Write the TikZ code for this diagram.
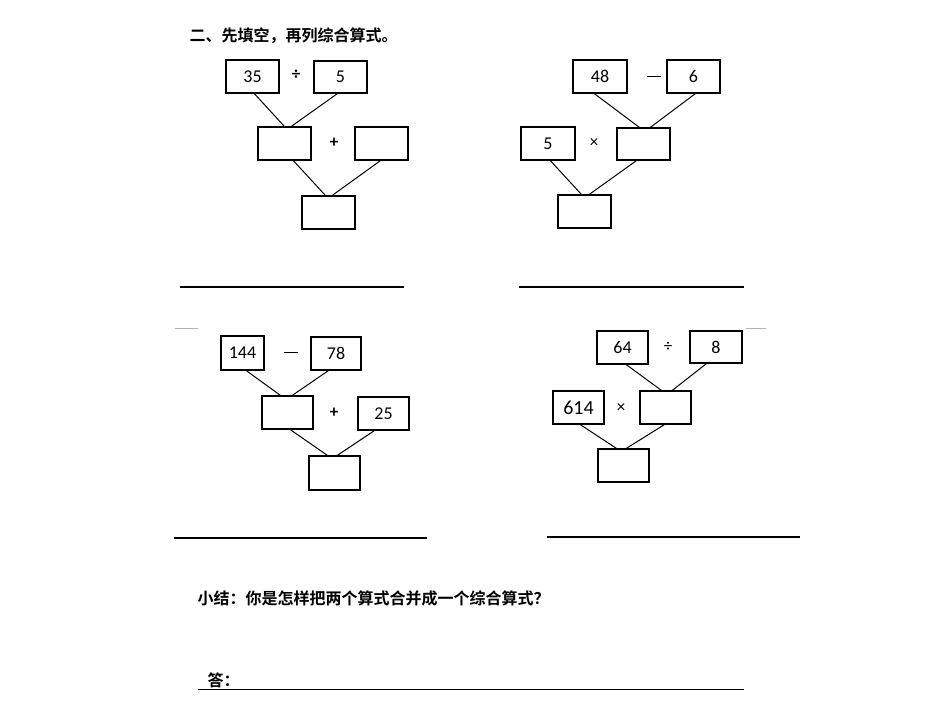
\documentclass[tikz,border=0pt]{standalone}
\usepackage{fontspec}
\setmainfont{Carlito}
\newfontfamily\cjk[BoldFont={* Bold}]{Noto Sans CJK SC}
\tikzset{bx/.style={draw,line width=1.3pt,inner sep=0pt,font=\fontsize{18}{18}\selectfont},
 ln/.style={line width=1pt},
 op/.style={font=\fontsize{17}{17}\selectfont\bfseries},
 ul/.style={line width=1.2pt},
 ti/.style={anchor=west,font=\cjk\bfseries\fontsize{16}{16}\selectfont}}
\newcommand\mybx[6]{\node[bx,minimum width={#4-#2},minimum height={#5-#3}] (#1) at ({(#2+#4)/2},{(#3+#5)/2}) {#6};}
\begin{document}
\begin{tikzpicture}[x=1pt,y=-1pt]
\useasboundingbox (0,0) rectangle (950,713);
\node[ti] (t1) at (186,36) {二、先填空，再列综合算式。};
% tree 1
\mybx{a1}{226}{60}{279}{93}{35}
\mybx{a2}{314}{61}{367}{93}{5}
\node[op] (o1) at (296,75) {÷};
\mybx{a3}{258}{127}{311}{160}{}
\mybx{a4}{355}{127}{408}{160}{}
\node[op] (o2) at (334,143) {+};
\mybx{a5}{302}{196}{355}{229}{}
\draw[ln] ([xshift=29]a1.south west) -- ([xshift=27]a3.north west);
\draw[ln] ([xshift=24]a2.south west) -- ([xshift=34]a3.north west);
\draw[ln] ([xshift=36]a3.south west) -- ([xshift=24]a5.north west);
\draw[ln] ([xshift=26]a4.south west) -- ([xshift=31]a5.north west);
\coordinate (u1a) at (180,287); \coordinate (u1b) at (404,287);
\draw[ul] (u1a) -- (u1b);
% tree 2
\mybx{b1}{573}{60}{627}{93}{48}
\mybx{b2}{667}{60}{720}{93}{6}
\node (o3) at (654,76) {\rule{14pt}{0.9pt}};
\mybx{b3}{521}{127}{575}{160}{5}
\node[op] (o4) at (594,143) {\normalfont ×};
\mybx{b4}{617}{128}{670}{160}{}
\mybx{b5}{558}{195}{611}{228}{}
\draw[ln] ([xshift=22]b1.south west) -- ([xshift=23]b4.north west);
\draw[ln] ([xshift=29]b2.south west) -- ([xshift=34]b4.north west);
\draw[ln] ([xshift=30]b3.south west) -- ([xshift=24]b5.north west);
\draw[ln] ([xshift=20]b4.south west) -- ([xshift=32]b5.north west);
\coordinate (u2a) at (519,287); \coordinate (u2b) at (744,287);
\draw[ul] (u2a) -- (u2b);
% tree 3
\coordinate (g1a) at (175,328); \coordinate (g1b) at (198,328);
\draw[gray!60,line width=0.8pt] (g1a) -- (g1b);
\mybx{c1}{221}{336}{264}{370}{144}
\mybx{c2}{311}{337}{361}{370}{78}
\node (o5) at (291,352) {\rule{14pt}{0.9pt}};
\mybx{c3}{262}{396}{313}{429}{}
\node[op] (o6) at (334,413) {+};
\mybx{c4}{358}{397}{409}{430}{25}
\mybx{c5}{309}{456}{360}{490}{}
\draw[ln] ([xshift=26]c1.south west) -- ([xshift=19]c3.north west);
\draw[ln] ([xshift=18]c2.south west) -- ([xshift=31]c3.north west);
\draw[ln] ([xshift=29]c3.south west) -- ([xshift=19]c5.north west);
\draw[ln] ([xshift=17]c4.south west) -- ([xshift=29]c5.north west);
\coordinate (u3a) at (174,538); \coordinate (u3b) at (427,538);
\draw[ul] (u3a) -- (u3b);
% tree 4
\coordinate (g2a) at (746,328); \coordinate (g2b) at (766,328);
\draw[gray!60,line width=0.8pt] (g2a) -- (g2b);
\mybx{d1}{597}{331}{648}{364}{64}
\node[op] (o7) at (668,347) {\normalfont ÷};
\mybx{d2}{690}{331}{742}{363}{8}
\mybx{d3}{553}{391}{604}{424}{\fontsize{20}{20}\selectfont 614}
\node[op] (o8) at (621,408) {\normalfont ×};
\mybx{d4}{640}{391}{691}{424}{}
\mybx{d5}{598}{449}{649}{482}{}
\draw[ln] ([xshift=30]d1.south west) -- ([xshift=22]d4.north west);
\draw[ln] ([xshift=17]d2.south west) -- ([xshift=33]d4.north west);
\draw[ln] ([xshift=28]d3.south west) -- ([xshift=19]d5.north west);
\draw[ln] ([xshift=25]d4.south west) -- ([xshift=29]d5.north west);
\coordinate (u4a) at (547,537); \coordinate (u4b) at (800,537);
\draw[ul] (u4a) -- (u4b);
% summary
\node[ti] (t2) at (194,598) {小结：你是怎样把两个算式合并成一个综合算式？};
\node[ti] (t3) at (204,680) {答：};
\coordinate (u5a) at (198,689); \coordinate (u5b) at (744,689);
\draw[line width=0.8pt] (u5a) -- (u5b);
\end{tikzpicture}
\end{document}
